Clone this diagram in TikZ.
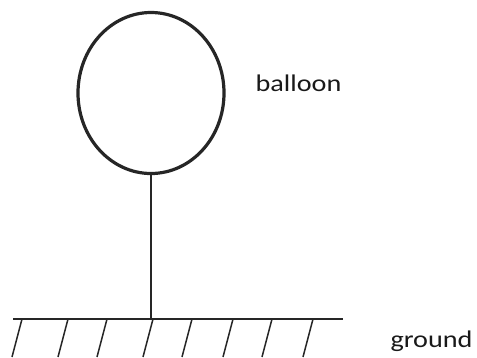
\documentclass[tikz,border=0pt]{standalone}
\usepackage{fontspec}
\setmainfont{Carlito}
\usetikzlibrary{positioning, shapes.geometric}

\begin{document}
\begin{tikzpicture}[
  x=1bp, y=-1bp,
  balloonshape/.style={
    ellipse, draw=black!85, line width=3.2bp,
    minimum width=146bp, minimum height=161bp, inner sep=0pt
  },
  stringline/.style={draw=black!85, line width=1.6bp},
  groundline/.style={draw=black!85, line width=1.6bp},
  hatchline/.style={draw=black!85, line width=1.5bp},
  labeltext/.style={font=\fontsize{24}{28}\selectfont, text=black!90, inner sep=0pt},
]
\useasboundingbox (0,0) rectangle (477,357);

% ============================================================
% BALLOON AND STRING
% ============================================================
\node[balloonshape] (balloon) at (151,93) {};
\node[labeltext] (balloonlabel) at (298.5,83.5) {\scalebox{1.18}[1]{balloon}};

\coordinate (foot) at (151,319);
\draw[stringline] (balloon.south) -- (foot);

% ============================================================
% GROUND WITH HATCHING
% ============================================================
\coordinate (gleft) at (13,319);
\coordinate (gright) at (343,319);
\draw[groundline] (gleft) -- (gright);
\foreach \hx in {22,68,107,153,192,233,272,313}
  \draw[hatchline] (\hx,319) -- ++(-10,38);

\node[labeltext] (groundlabel) at (431.5,341.5) {\scalebox{1.18}[1]{ground}};

\end{tikzpicture}
\end{document}
